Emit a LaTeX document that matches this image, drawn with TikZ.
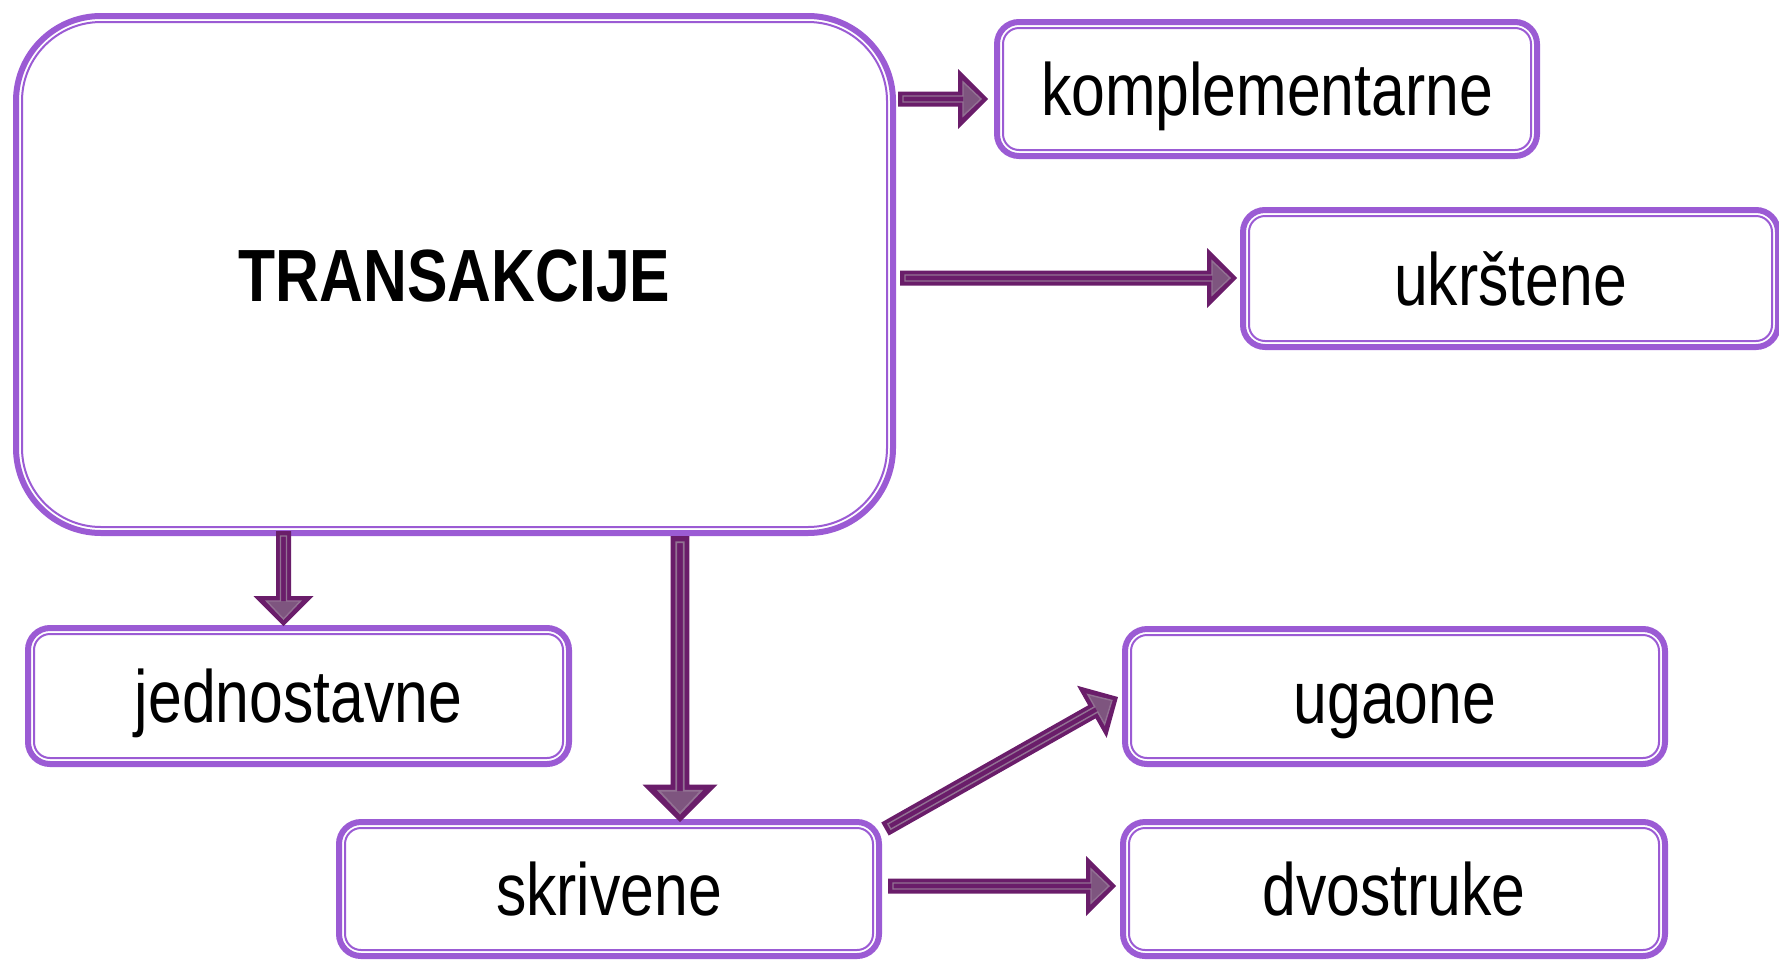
\documentclass[tikz,border=0pt]{standalone}
\usepackage{fontspec}
\setmainfont[FakeStretch=0.82]{Liberation Sans}
\usetikzlibrary{calc}
\definecolor{bord}{HTML}{9B5BD4}
\definecolor{arrdark}{HTML}{6A1D6A}
\definecolor{arrmid}{HTML}{7E557F}
\definecolor{arrlight}{HTML}{927193}
\tikzset{
  box/.style={draw=bord, line width=6pt, fill=white, inner sep=0pt, outer sep=0pt,
    rounded corners=22pt, font=\fontsize{74}{80}\selectfont,
    text height=53pt, text depth=0pt, align=center},
  bigbox/.style={box, rounded corners=85pt, font=\fontsize{74}{80}\selectfont\bfseries},
  innerframe/.style={draw=bord, line width=2pt}
}
\newcommand\blockarr[3][1]{%
  \path let \p1=(#2), \p2=(#3) in \pgfextra{%
    \pgfmathsetmacro\arrangtmp{atan2(\y2-\y1,\x2-\x1)}%
    \pgfmathsetmacro\arrlentmp{veclen(\x2-\x1,\y2-\y1)}%
    \xdef\arrang{\arrangtmp}\xdef\arrlen{\arrlentmp}};
  \begin{scope}[shift={(#2)}, rotate=\arrang, x=1pt, y=1pt]
    \def\s{#1}%
    \fill[arrdark] (0,{-7.5*\s}) -- ({\arrlen-30*\s},{-7.5*\s}) -- ({\arrlen-30*\s},{-30*\s})
      -- (\arrlen,0) -- ({\arrlen-30*\s},{30*\s}) -- ({\arrlen-30*\s},{7.5*\s}) -- (0,{7.5*\s}) -- cycle;
    \fill[arrmid] ({\arrlen-25*\s},{-17*\s}) -- ({\arrlen-7*\s},0) -- ({\arrlen-25*\s},{17*\s}) -- cycle;
    \draw[arrlight, line width={1.4pt*\s}, line join=miter] ({5*\s},{-3*\s}) -- ({\arrlen-25*\s},{-3*\s})
      -- ({\arrlen-25*\s},{-17*\s}) -- ({\arrlen-7*\s},0) -- ({\arrlen-25*\s},{17*\s})
      -- ({\arrlen-25*\s},{3*\s}) -- ({5*\s},{3*\s}) -- cycle;
  \end{scope}}
\begin{document}
\begin{tikzpicture}[x=1pt, y=-1pt]
\useasboundingbox (0,0) rectangle (1779,959);
% boxes
\node[bigbox, minimum width=877pt, minimum height=517pt] (main) at (454.5,274.5) {TRANSAKCIJE};
\node[box, minimum width=540pt, minimum height=134pt] (komp) at (1267,89) {komplementarne};
\node[box, minimum width=535pt, minimum height=137pt] (ukr) at (1510.5,278.5) {ukrštene};
\node[box, minimum width=541pt, minimum height=136pt] (jedn) at (298.5,696) {jednostavne};
\node[box, minimum width=540pt, minimum height=135pt] (ugao) at (1395,696.5) {ugaone};
\node[box, minimum width=540pt, minimum height=134pt] (skriv) at (609,889) {skrivene};
\node[box, minimum width=542pt, minimum height=134pt] (dvost) at (1394,889) {dvostruke};
% inner frames
\draw[innerframe, rounded corners=79pt] ([shift={(6pt,6pt)}]main.south west) rectangle ([shift={(-6pt,-6pt)}]main.north east);
\foreach \n in {komp,ukr,jedn,ugao,skriv,dvost}
  \draw[innerframe, rounded corners=16pt] ([shift={(6pt,6pt)}]\n.south west) rectangle ([shift={(-6pt,-6pt)}]\n.north east);
% arrow end points
\coordinate (a1s) at ([xshift=5pt]main.east |- 0,99);
\coordinate (a1e) at ([xshift=-9pt]komp.west |- 0,99);
\coordinate (a2s) at ([xshift=7pt]main.east |- 0,278);
\coordinate (a2e) at ([xshift=-6pt]ukr.west |- 0,278);
\coordinate (a3s) at ([yshift=2pt]main.south -| 283.5,0);
\coordinate (a3e) at ([yshift=2pt]jedn.north -| 283.5,0);
\coordinate (a4s) at ([yshift=-3pt]main.south -| 680,0);
\coordinate (a4e) at ([yshift=0pt]skriv.north -| 680,0);
\coordinate (a5s) at (885,829);
\coordinate (a5e) at ([xshift=-7pt]ugao.west |- 0,697);
\coordinate (a6s) at ([xshift=9pt]skriv.east |- 0,886);
\coordinate (a6e) at ([xshift=-7pt]dvost.west |- 0,886);
% arrows
\blockarr{a1s}{a1e}
\blockarr{a2s}{a2e}
\blockarr{a3s}{a3e}
\blockarr[1.25]{a4s}{a4e}
\blockarr{a5s}{a5e}
\blockarr{a6s}{a6e}
\end{tikzpicture}
\end{document}
